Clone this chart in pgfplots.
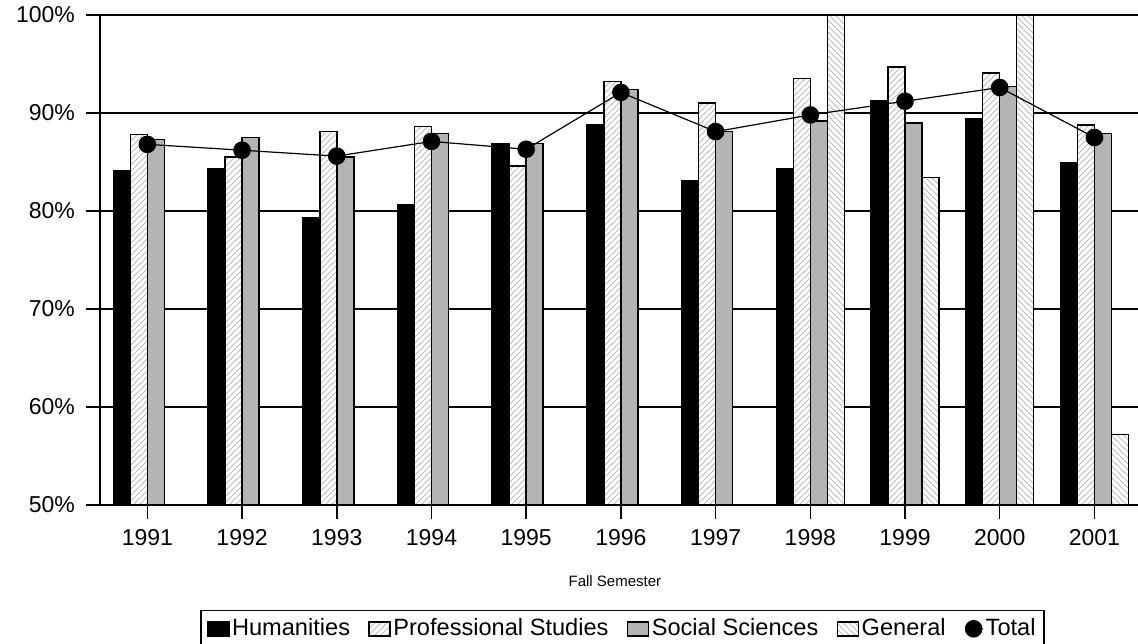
\documentclass[border=0pt]{standalone}
\usepackage{fontspec}
\setmainfont{Liberation Sans}
\usepackage{pgfplots}
\usepackage{pgfplotstable}
\pgfplotsset{compat=1.18}
\usetikzlibrary{patterns}
\definecolor{socgray}{RGB}{180,180,180}
\definecolor{hatch}{RGB}{190,190,190}

\pgfplotsset{
  barlegend/.style={legend image code/.code={\draw[##1] (0pt,-3.5pt) rectangle (10.5pt,3.5pt);}},
  linelegend/.style={legend image code/.code={\draw[mark repeat=2,mark phase=2,##1] plot coordinates {(0pt,0pt)(4.5pt,0pt)(9pt,0pt)};}},
}

\pgfplotstableread{
x hum prof soc tot
0 84.1 87.8 87.3 86.8
1 84.3 85.5 87.5 86.2
2 79.3 88.1 85.5 85.6
3 80.6 88.6 87.9 87.1
4 86.9 84.6 86.9 86.3
5 88.8 93.2 92.4 92.1
6 83.1 91.0 88.1 88.1
7 84.3 93.5 89.2 89.8
8 91.3 94.7 89.0 91.2
9 89.4 94.1 92.7 92.6
10 84.9 88.8 87.9 87.5
}\datatable

\pgfplotstableread{
x gen
7 105
8 83.4
9 105
10 57.2
}\gentable

\begin{document}
\begin{tikzpicture}
\begin{axis}[
  scale only axis,
  width=519pt, height=245pt,
  xmin=-0.5, xmax=10.46,
  ymin=50, ymax=100,
  axis x line*=bottom, axis y line*=left,
  axis line style={-, line width=0.75pt, black},
  xtick={0,...,10},
  xticklabels={1991,1992,1993,1994,1995,1996,1997,1998,1999,2000,2001},
  ytick={50,60,70,80,90,100},
  yticklabels={50\%,60\%,70\%,80\%,90\%,100\%},
  tick align=outside,
  major tick length=7pt,
  tick style={line width=0.75pt, black},
  ticklabel style={font=\fontsize{11.5}{13}\selectfont},
  yticklabel style={xshift=-2pt},
  xticklabel style={yshift=-1.5pt},
  ymajorgrids,
  grid style={line width=0.75pt, black},
  xlabel={Fall Semester},
  xlabel style={font=\fontsize{7.5}{9}\selectfont, at={(axis description cs:0.496,-0.155)}, anchor=center},
  legend columns=-1,
  legend style={
    at={(axis description cs:0.5034,-0.2143)}, anchor=north,
    draw=black, line width=0.75pt,
    font=\fontsize{11.8}{13}\selectfont,
    inner xsep=3pt, inner ysep=2pt,
    nodes={inner xsep=1.2pt},
    /tikz/every even column/.append style={column sep=8pt},
  },
  legend cell align=left,
  after end axis/.code={\draw[line width=0.75pt, black] (rel axis cs:0,1) -- (rel axis cs:1,1);},
]
\addplot[ybar, bar width=8.5pt, bar shift=-12.75pt, draw=black, line width=0.75pt, fill=black, barlegend]
  table[x=x, y=hum] {\datatable};
\addlegendentry{Humanities}
\addplot[ybar, bar width=8.5pt, bar shift=-4.25pt, draw=black, line width=0.75pt, fill=white,
  postaction={pattern=north east lines, pattern color=hatch}, barlegend]
  table[x=x, y=prof] {\datatable};
\addlegendentry{Professional Studies}
\addplot[ybar, bar width=8.5pt, bar shift=4.25pt, draw=black, line width=0.75pt, fill=socgray, barlegend]
  table[x=x, y=soc] {\datatable};
\addlegendentry{Social Sciences}
\addplot[ybar, bar width=8.5pt, bar shift=12.75pt, draw=black, line width=0.75pt, fill=white,
  postaction={pattern=north west lines, pattern color=hatch}, barlegend]
  table[x=x, y=gen] {\gentable};
\addlegendentry{General}
\addplot[sharp plot, black, line width=0.6pt, mark=*, mark size=4.1pt, mark options={fill=black}, linelegend]
  table[x=x, y=tot] {\datatable};
\addlegendentry{Total}
\end{axis}
\pgfresetboundingbox
\path[use as bounding box] ([xshift=-50pt,yshift=7.5pt]current axis.north west) rectangle ([yshift=-69.5pt]current axis.south east);
\end{tikzpicture}
\end{document}
